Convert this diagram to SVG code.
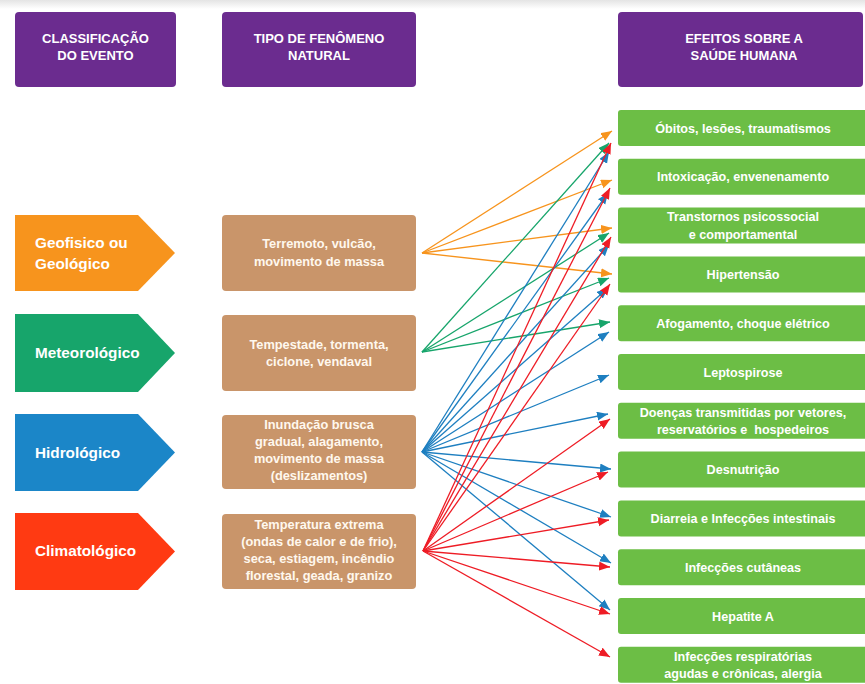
<svg xmlns="http://www.w3.org/2000/svg" width="865" height="684" viewBox="0 0 865 684">
<defs>
<linearGradient id="topshade" x1="0" y1="0" x2="0" y2="1">
<stop offset="0" stop-color="#e4e4e4"/>
<stop offset="1" stop-color="#ffffff"/>
</linearGradient>
<marker id="aO" markerUnits="userSpaceOnUse" markerWidth="12" markerHeight="10" refX="11" refY="4.5" orient="auto"><path d="M0,0 L11,4.5 L0,9 z" fill="#F7941D"/></marker>
<marker id="aG" markerUnits="userSpaceOnUse" markerWidth="12" markerHeight="10" refX="11" refY="4.5" orient="auto"><path d="M0,0 L11,4.5 L0,9 z" fill="#17A56B"/></marker>
<marker id="aB" markerUnits="userSpaceOnUse" markerWidth="12" markerHeight="10" refX="11" refY="4.5" orient="auto"><path d="M0,0 L11,4.5 L0,9 z" fill="#1E7FC0"/></marker>
<marker id="aR" markerUnits="userSpaceOnUse" markerWidth="12" markerHeight="10" refX="11" refY="4.5" orient="auto"><path d="M0,0 L11,4.5 L0,9 z" fill="#EE1C25"/></marker>
</defs>
<style>
.hdr{fill:#6B2C8F}
.ht{font-family:"Liberation Sans",Arial,sans-serif;font-weight:bold;font-size:13px;fill:#ffffff;text-anchor:middle}
.pt{font-family:"Liberation Sans",Arial,sans-serif;font-weight:bold;font-size:15.3px;fill:#ffffff}
.mid{fill:#C9956A}
.mt{font-family:"Liberation Sans",Arial,sans-serif;font-weight:bold;font-size:12.8px;fill:#FFF8EE;text-anchor:middle}
.eff{fill:#6CBE45}
.et{font-family:"Liberation Sans",Arial,sans-serif;font-weight:bold;font-size:12.6px;fill:#ffffff;text-anchor:middle;white-space:pre}
.cO{stroke:#F7941D;stroke-width:1.3;fill:none;marker-end:url(#aO)}
.cG{stroke:#17A56B;stroke-width:1.3;fill:none;marker-end:url(#aG)}
.cB{stroke:#1E7FC0;stroke-width:1.3;fill:none;marker-end:url(#aB)}
.cR{stroke:#EE1C25;stroke-width:1.3;fill:none;marker-end:url(#aR)}
</style>
<rect x="0" y="0" width="865" height="684" fill="#ffffff"/>
<rect x="0" y="0" width="865" height="9" fill="url(#topshade)"/>

<g id="hdr-classificacao">
<rect class="hdr" x="15" y="12" width="161" height="75" rx="4"/>
<text class="ht" x="95.5" y="43">CLASSIFICAÇÃO</text>
<text class="ht" x="95.5" y="60">DO EVENTO</text>
</g>
<g id="hdr-tipo">
<rect class="hdr" x="222" y="12" width="194" height="75" rx="4"/>
<text class="ht" x="319" y="43">TIPO DE FENÔMENO</text>
<text class="ht" x="319" y="60">NATURAL</text>
</g>
<g id="hdr-efeitos">
<rect class="hdr" x="618" y="12" width="245" height="75" rx="4"/>
<text class="ht" x="744" y="43">EFEITOS SOBRE A</text>
<text class="ht" x="744" y="60">SAÚDE HUMANA</text>
</g>

<g id="cls-geofisico">
<path d="M15,215 H138 L175,253 L138,291 H15 Z" fill="#F7941D"/>
<text class="pt" x="35" y="247.5">Geofisico ou</text>
<text class="pt" x="35" y="268.5">Geológico</text>
</g>
<g id="cls-meteorologico">
<path d="M15,314 H138 L175,353 L138,392 H15 Z" fill="#17A56B"/>
<text class="pt" x="35" y="357.5">Meteorológico</text>
</g>
<g id="cls-hidrologico">
<path d="M15,414 H138 L175,452.5 L138,491 H15 Z" fill="#1B86C8"/>
<text class="pt" x="35" y="457.5">Hidrológico</text>
</g>
<g id="cls-climatologico">
<path d="M15,513 H138 L175,551.5 L138,590 H15 Z" fill="#FF3A12"/>
<text class="pt" x="35" y="556">Climatológico</text>
</g>

<g id="tipo-geo">
<rect class="mid" x="222" y="215" width="194" height="76" rx="4"/>
<text class="mt" x="319" y="248">Terremoto, vulcão,</text>
<text class="mt" x="319" y="266">movimento de massa</text>
</g>
<g id="tipo-meteo">
<rect class="mid" x="222" y="315" width="194" height="76" rx="4"/>
<text class="mt" x="319" y="348.5">Tempestade, tormenta,</text>
<text class="mt" x="319" y="366">ciclone, vendaval</text>
</g>
<g id="tipo-hidro">
<rect class="mid" x="222" y="415" width="194" height="74" rx="4"/>
<text class="mt" x="319" y="428.5">Inundação brusca</text>
<text class="mt" x="319" y="445.5">gradual, alagamento,</text>
<text class="mt" x="319" y="462.5">movimento de massa</text>
<text class="mt" x="319" y="480">(deslizamentos)</text>
</g>
<g id="tipo-clima">
<rect class="mid" x="222" y="514" width="194" height="75" rx="4"/>
<text class="mt" x="319" y="528.5">Temperatura extrema</text>
<text class="mt" x="319" y="545.5">(ondas de calor e de frio),</text>
<text class="mt" x="319" y="562.5">seca, estiagem, incêndio</text>
<text class="mt" x="319" y="579.5">florestal, geada, granizo</text>
</g>

<g id="ef-obitos"><rect class="eff" x="618" y="110" width="250" height="36" rx="3"/><text class="et" x="743" y="132.5">Óbitos, lesões, traumatismos</text></g>
<g id="ef-intoxicacao"><rect class="eff" x="618" y="158.8" width="250" height="36" rx="3"/><text class="et" x="743" y="181.3">Intoxicação, envenenamento</text></g>
<g id="ef-transtornos"><rect class="eff" x="618" y="207.6" width="250" height="36" rx="3"/><text class="et" x="743" y="221">Transtornos psicossocial</text><text class="et" x="743" y="239">e comportamental</text></g>
<g id="ef-hipertensao"><rect class="eff" x="618" y="256.4" width="250" height="36" rx="3"/><text class="et" x="743" y="278.9">Hipertensão</text></g>
<g id="ef-afogamento"><rect class="eff" x="618" y="305.2" width="250" height="36" rx="3"/><text class="et" x="743" y="327.7">Afogamento, choque elétrico</text></g>
<g id="ef-leptospirose"><rect class="eff" x="618" y="354" width="250" height="36" rx="3"/><text class="et" x="743" y="376.5">Leptospirose</text></g>
<g id="ef-doencas"><rect class="eff" x="618" y="402.8" width="250" height="36" rx="3"/><text class="et" x="743" y="417">Doenças transmitidas por vetores,</text><text class="et" x="743" y="434">reservatórios e  hospedeiros</text></g>
<g id="ef-desnutricao"><rect class="eff" x="618" y="451.6" width="250" height="36" rx="3"/><text class="et" x="743" y="474.1">Desnutrição</text></g>
<g id="ef-diarreia"><rect class="eff" x="618" y="500.4" width="250" height="36" rx="3"/><text class="et" x="743" y="522.9">Diarreia e Infecções intestinais</text></g>
<g id="ef-cutaneas"><rect class="eff" x="618" y="549.2" width="250" height="36" rx="3"/><text class="et" x="743" y="571.7">Infecções cutâneas</text></g>
<g id="ef-hepatite"><rect class="eff" x="618" y="598" width="250" height="36" rx="3"/><text class="et" x="743" y="620.5">Hepatite A</text></g>
<g id="ef-respiratorias"><rect class="eff" x="618" y="646.8" width="250" height="36" rx="3"/><text class="et" x="743" y="661">Infecções respiratórias</text><text class="et" x="743" y="678">agudas e crônicas, alergia</text></g>

<g id="connectors">
<line class="cO" x1="422" y1="253" x2="612" y2="131"/>
<line class="cO" x1="422" y1="253" x2="612" y2="180"/>
<line class="cO" x1="422" y1="253" x2="612" y2="228"/>
<line class="cO" x1="422" y1="253" x2="612" y2="274"/>
<line class="cG" x1="422" y1="352" x2="609" y2="143"/>
<line class="cG" x1="422" y1="352" x2="609" y2="233"/>
<line class="cG" x1="422" y1="352" x2="609" y2="278"/>
<line class="cG" x1="422" y1="352" x2="610" y2="322"/>
<line class="cB" x1="422" y1="452" x2="609" y2="152"/>
<line class="cB" x1="422" y1="452" x2="608" y2="193"/>
<line class="cB" x1="422" y1="452" x2="609" y2="245"/>
<line class="cB" x1="422" y1="452" x2="608" y2="288"/>
<line class="cB" x1="422" y1="452" x2="609" y2="332"/>
<line class="cB" x1="422" y1="452" x2="609" y2="375"/>
<line class="cB" x1="422" y1="452" x2="608" y2="414"/>
<line class="cB" x1="422" y1="452" x2="611" y2="469"/>
<line class="cB" x1="422" y1="452" x2="611" y2="517"/>
<line class="cB" x1="422" y1="452" x2="611" y2="563"/>
<line class="cB" x1="422" y1="452" x2="610" y2="610"/>
<line class="cR" x1="423" y1="551" x2="611" y2="143"/>
<line class="cR" x1="423" y1="551" x2="610" y2="188"/>
<line class="cR" x1="423" y1="551" x2="611" y2="237"/>
<line class="cR" x1="423" y1="551" x2="610" y2="284"/>
<line class="cR" x1="423" y1="551" x2="610" y2="419"/>
<line class="cR" x1="423" y1="551" x2="608" y2="472"/>
<line class="cR" x1="423" y1="551" x2="609" y2="520"/>
<line class="cR" x1="423" y1="551" x2="610" y2="567"/>
<line class="cR" x1="423" y1="551" x2="610" y2="614"/>
<line class="cR" x1="423" y1="551" x2="610" y2="657"/>
</g>
</svg>
